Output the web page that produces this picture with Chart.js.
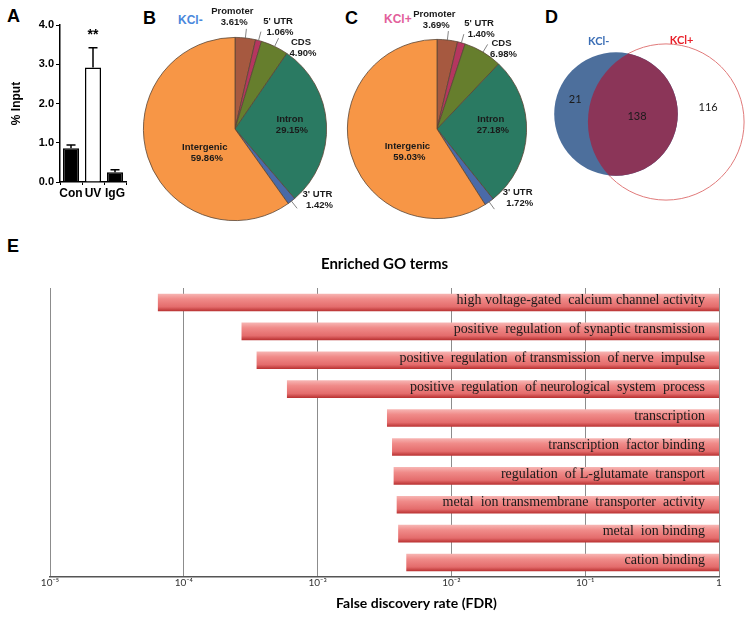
<!DOCTYPE html>
<html>
<head>
<meta charset="utf-8">
<script src="https://cdn.jsdelivr.net/npm/chart.js@4.4.0/dist/chart.umd.min.js"></script>
<style>
  body { margin: 0; background: #fff; width: 754px; height: 623px; position: relative; overflow: hidden; font-family: "Liberation Sans", Arial, sans-serif; }
  canvas { position: absolute; }
  .tag { position: absolute; font: bold 18px "Liberation Sans", Arial, sans-serif; color: #000; line-height: 18px; }
  .kcl { position: absolute; font: bold 12px "Liberation Sans", Arial, sans-serif; line-height: 14px; }
</style>
</head>
<body>
<div class="tag" style="left:7px;top:7px">A</div>
<div class="tag" style="left:143px;top:9px">B</div>
<div class="tag" style="left:345px;top:9px">C</div>
<div class="tag" style="left:545px;top:8px">D</div>
<div class="tag" style="left:7px;top:237px">E</div>
<div class="kcl" style="left:178px;top:13px;color:#4a88dc">KCl-</div>
<div class="kcl" style="left:384px;top:12px;color:#e2609b">KCl+</div>

<canvas id="chartA" width="130" height="205" style="left:0;top:0"></canvas>
<canvas id="chartB" width="215" height="235" style="left:130px;top:0"></canvas>
<canvas id="chartC" width="210" height="235" style="left:335px;top:0"></canvas>
<canvas id="chartD" width="214" height="175" style="left:540px;top:30px"></canvas>
<canvas id="chartE" width="754" height="395" style="left:0;top:228px"></canvas>

<script>
// A: ChIP enrichment
var barCats = ['Con', 'UV', 'IgG'];
var barVals = [0.86, 2.92, 0.25];
var barErr = [0.08, 0.5, 0.06];
var sigMarks = ['', '**', ''];

// B / C: genomic distribution of peaks (%)
var regionLabels = ['Promoter', "5' UTR", 'CDS', 'Intron', "3' UTR", 'Intergenic'];
var kclMinus = [3.61, 1.06, 4.90, 29.15, 1.42, 59.86];
var kclPlus = [3.69, 1.40, 6.98, 27.18, 1.72, 59.03];

// D: overlap of target genes
var vennSets = ['KCl-', 'KCl+'];
var vennCounts = [21, 138, 116]; // KCl- only, shared, KCl+ only

// E: enriched GO terms
var goTerms = [
  'high voltage-gated  calcium channel activity',
  'positive  regulation  of synaptic transmission',
  'positive  regulation  of transmission  of nerve  impulse',
  'positive  regulation  of neurological  system  process',
  'transcription',
  'transcription  factor binding',
  'regulation  of L-glutamate  transport',
  'metal  ion transmembrane  transporter  activity',
  'metal  ion binding',
  'cation binding'
];
var goFdr = [6.4e-5, 2.7e-4, 3.5e-4, 5.9e-4, 3.3e-3, 3.6e-3, 3.7e-3, 3.9e-3, 4.0e-3, 4.6e-3];
var fdrTicks = [1e-5, 1e-4, 1e-3, 1e-2, 1e-1, 1];
var fdrTickLabels = ['10\u207B\u2075', '10\u207B\u2074', '10\u207B\u00B3', '10\u207B\u00B2', '10\u207B\u00B9', '1'];

Chart.defaults.font.family = '"Liberation Sans", Arial, sans-serif';
Chart.defaults.color = '#000';

// ---------- A ----------
var errorBars = {
  id: 'errorBars',
  afterDatasetsDraw: function(chart) {
    var ctx = chart.ctx, y = chart.scales.y, meta = chart.getDatasetMeta(0);
    ctx.save();
    ctx.strokeStyle = '#000';
    ctx.lineWidth = 1.5;
    meta.data.forEach(function(bar, i) {
      var top = y.getPixelForValue(barVals[i] + barErr[i]);
      ctx.beginPath();
      ctx.moveTo(bar.x, bar.y);
      ctx.lineTo(bar.x, top);
      ctx.moveTo(bar.x - 4.5, top);
      ctx.lineTo(bar.x + 4.5, top);
      ctx.stroke();
      if (sigMarks[i]) {
        ctx.fillStyle = '#000';
        ctx.font = 'bold 14px "Liberation Sans", Arial, sans-serif';
        ctx.textAlign = 'center';
        ctx.fillText(sigMarks[i], bar.x, top - 9);
      }
    });
    ctx.restore();
  }
};

new Chart(document.getElementById('chartA'), {
  type: 'bar',
  data: {
    labels: barCats,
    datasets: [{
      data: barVals,
      backgroundColor: ['#000', '#fff', '#000'],
      borderColor: '#000',
      borderWidth: 1.5,
      barPercentage: 0.73,
      categoryPercentage: 1
    }]
  },
  options: {
    responsive: false,
    animation: false,
    layout: { padding: { top: 25, right: 4, left: 0, bottom: 0 } },
    plugins: { legend: { display: false }, tooltip: { enabled: false } },
    scales: {
      x: {
        grid: { drawOnChartArea: false, tickLength: 3, color: '#000' },
        border: { color: '#000', width: 1.5 },
        ticks: { color: '#000', padding: 1, autoSkip: false, minRotation: 0, maxRotation: 0,
                 font: { size: 12, weight: 'bold' } },
        afterFit: function(s) { s.height = 23; }
      },
      y: {
        min: 0,
        max: 4,
        ticks: { stepSize: 1, padding: 2, color: '#000', font: { size: 11, weight: 'bold' },
                 callback: function(v) { return v.toFixed(1); } },
        grid: { drawOnChartArea: false, tickLength: 4, color: '#000' },
        border: { color: '#000', width: 1.5 },
        title: { display: true, text: '% Input', color: '#000', padding: { top: 9, bottom: 0 },
                 font: { size: 12, weight: 'bold' } },
        afterFit: function(s) { s.width = 60; }
      }
    }
  },
  plugins: [errorBars]
});

// ---------- B / C ----------
var pieColors = ['#a65940', '#b5365f', '#667e2d', '#2a7a62', '#4a6aa8', '#f79646'];
var pieLabelPlace = [[-0.03, -1.22], [0.47, -1.12], [0.72, -0.89], [0.6, -0.05], [0.9, 0.77], [-0.33, 0.26]];
var pieLeader = [true, true, true, false, true, false];

var pieLabels = {
  id: 'pieLabels',
  afterDatasetsDraw: function(chart) {
    var ctx = chart.ctx, meta = chart.getDatasetMeta(0), vals = chart.data.datasets[0].data;
    ctx.save();
    ctx.font = 'bold 9.5px "Liberation Sans", Arial, sans-serif';
    ctx.fillStyle = '#1a1a1a';
    ctx.textAlign = 'center';
    ctx.textBaseline = 'middle';
    meta.data.forEach(function(arc, i) {
      var r = arc.outerRadius, mid = (arc.startAngle + arc.endAngle) / 2;
      var tx = arc.x + pieLabelPlace[i][0] * r, ty = arc.y + pieLabelPlace[i][1] * r;
      if (pieLeader[i]) {
        ctx.strokeStyle = '#666';
        ctx.lineWidth = 0.8;
        ctx.beginPath();
        ctx.moveTo(arc.x + Math.cos(mid) * r, arc.y + Math.sin(mid) * r);
        ctx.lineTo(arc.x + Math.cos(mid) * r * 1.1, arc.y + Math.sin(mid) * r * 1.1);
        ctx.stroke();
      }
      ctx.fillText(chart.data.labels[i], tx, ty - 5.5);
      ctx.fillText(vals[i].toFixed(2) + '%', tx + 2, ty + 5.5);
    });
    ctx.restore();
  }
};

function makePie(id, vals, pad) {
  new Chart(document.getElementById(id), {
    type: 'pie',
    data: {
      labels: regionLabels,
      datasets: [{ data: vals, backgroundColor: pieColors, borderColor: '#5b4636', borderWidth: 0.8 }]
    },
    options: {
      responsive: false,
      animation: false,
      layout: { padding: pad },
      plugins: { legend: { display: false }, tooltip: { enabled: false } }
    },
    plugins: [pieLabels]
  });
}
makePie('chartB', kclMinus, { left: 13, right: 18, top: 37, bottom: 14 });
makePie('chartC', kclPlus, { left: 12, right: 18, top: 39, bottom: 16 });

// ---------- D ----------
var vennSize = 4.9; // px per sqrt(count)
var vennPlugin = {
  id: 'venn',
  afterDatasetsDraw: function(chart) {
    var ctx = chart.ctx;
    var a = chart.getDatasetMeta(0).data[0], b = chart.getDatasetMeta(1).data[0];
    var ra = a.options.radius, rb = b.options.radius;
    ctx.save();
    ctx.beginPath();
    ctx.arc(a.x, a.y, ra, 0, Math.PI * 2);
    ctx.clip();
    ctx.beginPath();
    ctx.arc(b.x, b.y, rb, 0, Math.PI * 2);
    ctx.fillStyle = '#8b3558';
    ctx.fill();
    ctx.restore();

    ctx.save();
    ctx.textAlign = 'center';
    ctx.textBaseline = 'middle';
    ctx.font = '11px Lato, "Open Sans", sans-serif';
    ctx.fillStyle = '#1a1a1a';
    ctx.fillText(String(vennCounts[0]), a.x - 0.66 * ra, a.y - 0.23 * ra);
    ctx.fillText(String(vennCounts[1]), (a.x + b.x) / 2 - 4, (a.y + b.y) / 2 - 2);
    ctx.fillText(String(vennCounts[2]), b.x + 0.54 * rb, b.y - 0.18 * rb);
    ctx.font = 'bold 11px Lato, "Open Sans", sans-serif';
    ctx.fillStyle = '#3b6eb5';
    ctx.fillText(vennSets[0], a.x - 0.28 * ra, a.y - 1.18 * ra);
    ctx.fillStyle = '#e8202a';
    ctx.fillText(vennSets[1], b.x + 0.2 * rb, b.y - 1.04 * rb);
    ctx.restore();
  }
};

new Chart(document.getElementById('chartD'), {
  type: 'bubble',
  data: {
    datasets: [
      { label: vennSets[0], data: [{ x: 76, y: 84, r: vennSize * Math.sqrt(vennCounts[0] + vennCounts[1]) }],
        backgroundColor: '#4d6f9c', borderWidth: 0, clip: false },
      { label: vennSets[1], data: [{ x: 126, y: 92, r: vennSize * Math.sqrt(vennCounts[1] + vennCounts[2]) }],
        backgroundColor: 'rgba(0,0,0,0)', borderColor: '#e07a7a', borderWidth: 1, clip: false }
    ]
  },
  options: {
    responsive: false,
    animation: false,
    layout: { padding: 0, autoPadding: false },
    plugins: { legend: { display: false }, tooltip: { enabled: false } },
    scales: {
      x: { display: false, min: 0, max: 214 },
      y: { display: false, min: 0, max: 175, reverse: true }
    }
  },
  plugins: [vennPlugin]
});

// ---------- E ----------
var barShare = 0.61;
function barGradient(c) {
  var chart = c.chart, y = chart.scales.y;
  if (c.type !== 'data' || !y) return '#ec7b7b';
  var cy = y.getPixelForValue(c.dataIndex);
  var step = y.getPixelForValue(1) - y.getPixelForValue(0);
  if (!isFinite(cy) || !isFinite(step) || step === 0) return '#ec7b7b';
  var half = Math.abs(step) * barShare / 2;
  var g = chart.ctx.createLinearGradient(0, cy - half, 0, cy + half);
  g.addColorStop(0, '#f7b6b4');
  g.addColorStop(0.3, '#f08b89');
  g.addColorStop(0.75, '#e46c6c');
  g.addColorStop(1, '#b83030');
  return g;
}

var termLabels = {
  id: 'termLabels',
  afterDatasetsDraw: function(chart) {
    var ctx = chart.ctx, meta = chart.getDatasetMeta(0), area = chart.chartArea;
    ctx.save();
    ctx.font = '14px "Liberation Serif", "Times New Roman", serif';
    ctx.fillStyle = '#1a1a1a';
    ctx.textAlign = 'right';
    ctx.textBaseline = 'middle';
    meta.data.forEach(function(bar, i) {
      ctx.fillText(chart.data.labels[i], Math.max(bar.x, bar.base) - 14, bar.y - 2);
    });
    ctx.font = 'bold 14px Lato, "Open Sans", sans-serif';
    ctx.fillStyle = '#000';
    ctx.textAlign = 'center';
    ctx.fillText('False discovery rate (FDR)', (area.left + area.right) / 2 + 32, area.bottom + 26);
    ctx.restore();
  }
};

new Chart(document.getElementById('chartE'), {
  type: 'bar',
  data: {
    labels: goTerms,
    datasets: [{
      data: goFdr.map(function(v) { return [v, 1]; }),
      backgroundColor: barGradient,
      borderWidth: 0,
      barPercentage: barShare,
      categoryPercentage: 1
    }]
  },
  options: {
    indexAxis: 'y',
    responsive: false,
    animation: false,
    layout: { padding: { left: 50, right: 35, top: 12, bottom: 34 } },
    plugins: {
      legend: { display: false },
      tooltip: { enabled: false },
      title: { display: true, text: 'Enriched GO terms', color: '#000',
               font: { family: 'Lato, "Open Sans", sans-serif', size: 15, weight: 'bold' },
               padding: { top: 15, bottom: 15 } }
    },
    scales: {
      x: {
        type: 'logarithmic',
        min: 1e-5,
        max: 1,
        afterBuildTicks: function(s) { s.ticks = fdrTicks.map(function(v) { return { value: v }; }); },
        ticks: { padding: 0, color: '#333', font: { family: 'Lato, sans-serif', size: 10 },
                 autoSkip: false, maxRotation: 0,
                 callback: function(v, i) { return fdrTickLabels[i]; } },
        grid: { color: '#8c8c8c', lineWidth: 1, drawTicks: false },
        border: { color: '#555', width: 1.5 }
      },
      y: { display: false }
    }
  },
  plugins: [termLabels]
});
</script>
</body>
</html>
